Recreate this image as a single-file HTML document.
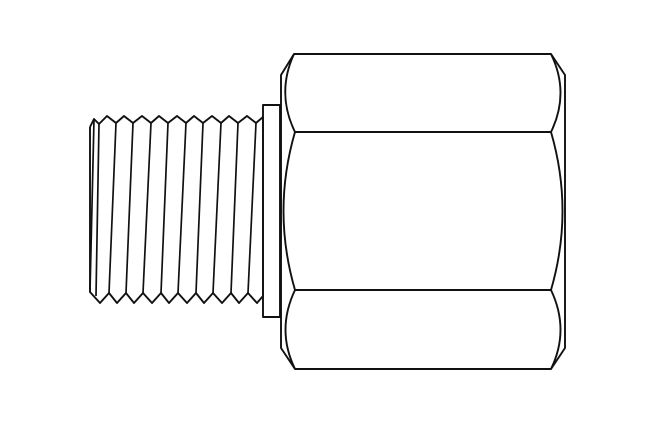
<!DOCTYPE html>
<html><head><style>html,body{margin:0;padding:0;background:#fff;width:650px;height:425px;overflow:hidden}</style></head>
<body>
<svg width="650" height="425" viewBox="0 0 650 425" xmlns="http://www.w3.org/2000/svg" fill="none" stroke="#111" stroke-width="1.9" stroke-linejoin="round">
<path d="M294,54 L551,54 L565,75 L565,348 L551,369 L295,369 L281,348 L281,75 Z"/>
<line x1="295" y1="132" x2="551" y2="132"/>
<line x1="295" y1="290" x2="551" y2="290"/>
<path d="M294,54 Q276,93 295,132"/>
<path d="M551,54 Q570,93 551,132"/>
<path d="M295,132 Q272,211 295,290"/>
<path d="M551,132 Q574,211 551,290"/>
<path d="M295,290 Q276,330 295,369"/>
<path d="M551,290 Q570,330 551,369"/>
<rect x="263" y="105" width="17" height="212"/>
<path d="M90,127 L90,292 L100,303 L109,293 L117,303 L126,293 L134,303 L143,293 L152,303 L161,293 L169,303 L178,293 L187,303 L196,293 L204,303 L213,293 L222,303 L231,293 L239,303 L248,293 L257,303 L263,296"/>
<path d="M90,127 L94,119 L99,124 L107,116 L116,123 L124,116 L133,123 L142,116 L151,123 L159,116 L168,123 L177,116 L186,123 L194,116 L203,123 L212,116 L221,123 L229,116 L238,123 L247,116 L256,123 L263,117"/>
<g stroke-width="1.7">
<line x1="94" y1="119" x2="90" y2="292"/>
<line x1="99" y1="124" x2="96" y2="296"/>
<line x1="116" y1="123" x2="109" y2="293"/>
<line x1="133" y1="123" x2="126" y2="293"/>
<line x1="151" y1="123" x2="143" y2="293"/>
<line x1="168" y1="123" x2="161" y2="293"/>
<line x1="186" y1="123" x2="178" y2="293"/>
<line x1="203" y1="123" x2="196" y2="293"/>
<line x1="221" y1="123" x2="213" y2="293"/>
<line x1="238" y1="123" x2="231" y2="293"/>
<line x1="256" y1="123" x2="248" y2="293"/>
<line x1="263" y1="117" x2="263" y2="296"/>
</g>
</svg>
</body></html>
